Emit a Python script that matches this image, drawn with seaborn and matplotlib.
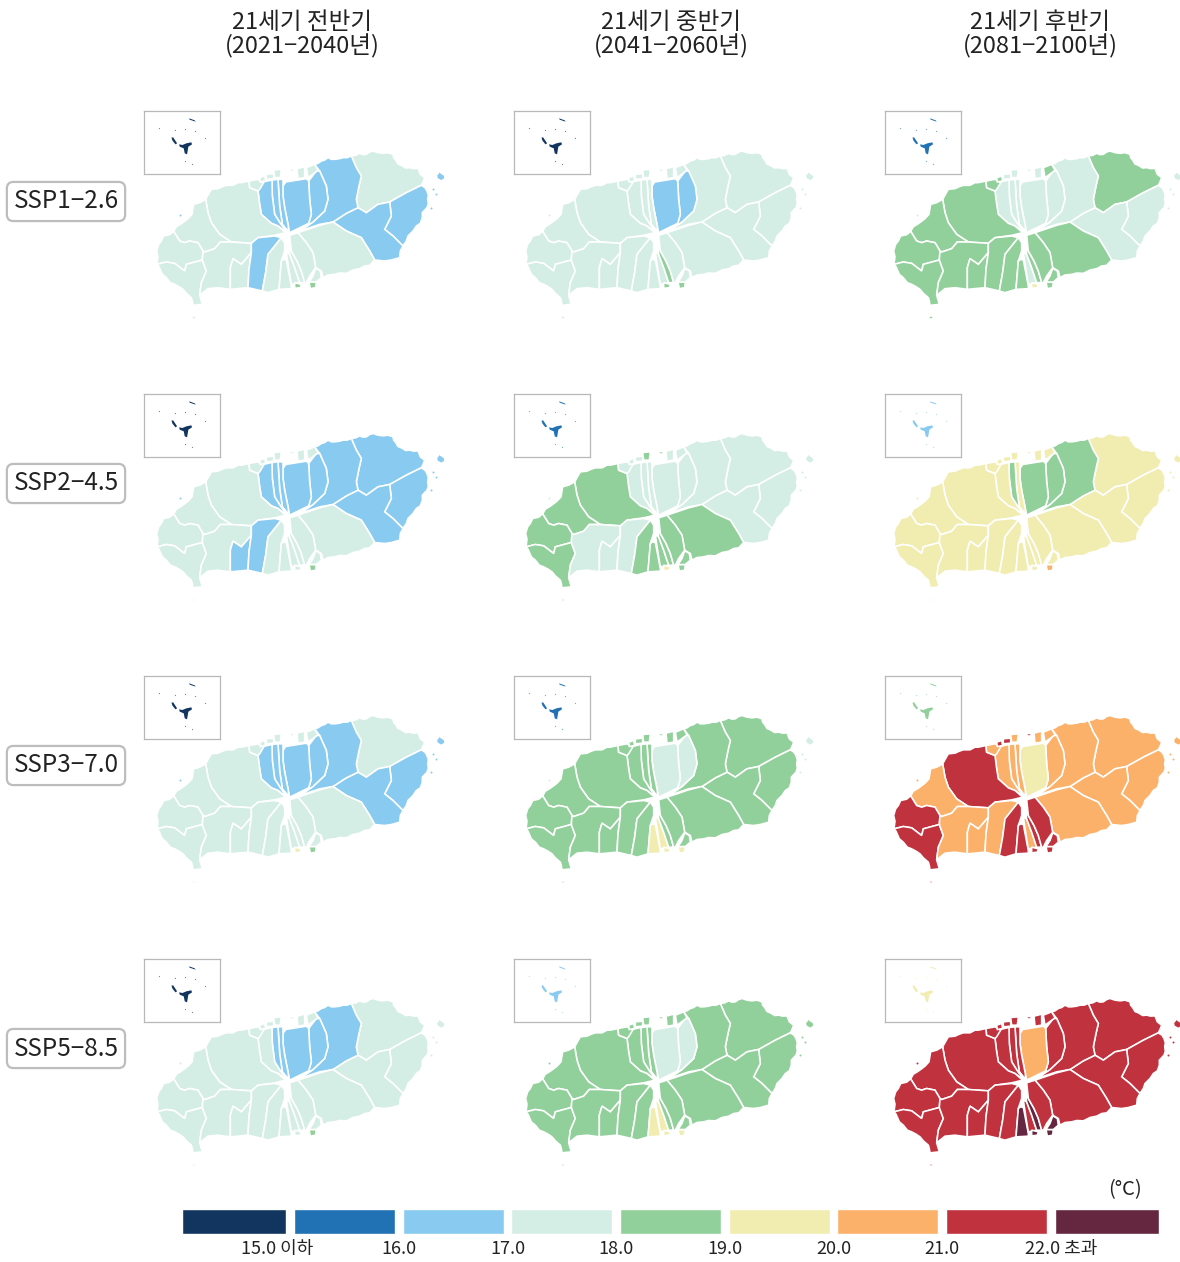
# %%
import matplotlib.pyplot as plt
import pandas as pd
import seaborn as sns

sns.set_theme(style="white")
plt.rcParams["font.family"] = ["Noto Sans CJK KR", "DejaVu Sans"]

# %% labels
col_titles = ["21세기 전반기\n(2021−2040년)", "21세기 중반기\n(2041−2060년)", "21세기 후반기\n(2081−2100년)"]
scenarios = ["SSP1−2.6", "SSP2−4.5", "SSP3−7.0", "SSP5−8.5"]
class_colors = ["#12355f", "#2171b5", "#89cbf0", "#d5eee5", "#92d09b", "#f1edb1", "#fbb16a", "#c1323f", "#65263f"]
tick_labels = ["15.0 이하", "16.0", "17.0", "18.0", "19.0", "20.0", "21.0", "22.0 초과"]
tick_pos = [0.376, 1.5, 2.5, 3.5, 4.5, 5.5, 6.5, 7.597]

# %% district outlines
districts = [
    [(625, 60), (638, 58), (650, 52), (660, 56), (670, 55), (680, 48), (690, 45), (705, 50), (720, 52), (735, 50), (750, 55), (752, 65), (758, 72), (765, 84), (775, 88), (788, 96), (800, 95), (812, 98), (825, 97), (832, 115), (845, 125), (840, 138), (835, 148), (790, 170), (740, 198), (705, 205), (670, 230), (645, 215), (640, 190), (648, 150), (655, 120), (640, 95)],
    [(835, 148), (846, 155), (852, 165), (856, 178), (854, 190), (856, 203), (852, 215), (838, 230), (838, 245), (832, 262), (820, 270), (810, 285), (795, 300), (790, 315), (780, 330), (750, 300), (725, 280), (745, 240), (740, 198), (790, 170)],
    [(570, 258), (610, 232), (645, 215), (670, 230), (705, 205), (740, 198), (745, 240), (725, 280), (750, 300), (780, 330), (772, 345), (770, 365), (745, 372), (725, 375), (695, 372), (680, 345), (655, 305), (610, 285)],
    [(515, 85), (525, 82), (535, 75), (545, 72), (555, 65), (565, 70), (575, 70), (590, 68), (600, 65), (612, 65), (625, 60), (640, 95), (655, 120), (648, 150), (640, 190), (645, 215), (610, 232), (570, 258), (530, 265), (470, 285), (510, 258), (545, 225), (555, 190), (550, 150), (530, 105)],
    [(570, 258), (610, 285), (655, 305), (680, 345), (695, 372), (680, 388), (665, 390), (650, 398), (630, 402), (610, 412), (590, 411), (575, 415), (555, 417), (540, 425), (535, 405), (518, 395), (510, 350), (490, 320), (465, 290), (530, 268)],
    [(497, 135), (520, 105), (530, 105), (550, 150), (555, 190), (545, 225), (510, 258), (470, 285), (497, 262), (505, 235), (500, 190)],
    [(420, 150), (428, 138), (490, 128), (497, 135), (500, 190), (505, 235), (497, 262), (440, 290), (436, 270), (425, 215), (420, 180)],
    [(405, 130), (420, 130), (420, 180), (425, 215), (436, 270), (436, 288), (418, 265), (410, 210)],
    [(387, 132), (405, 130), (410, 210), (418, 265), (436, 288), (412, 262), (395, 235), (388, 180)],
    [(350, 140), (387, 132), (388, 180), (395, 235), (412, 262), (432, 290), (405, 270), (385, 262), (355, 235), (350, 205), (345, 165)],
    [(188, 190), (198, 172), (205, 160), (225, 158), (238, 152), (250, 148), (270, 148), (285, 140), (295, 140), (318, 135), (320, 155), (345, 165), (350, 205), (355, 235), (385, 262), (405, 270), (428, 290), (395, 298), (345, 305), (325, 322), (265, 318), (230, 295), (205, 260), (195, 230)],
    [(92, 286), (100, 272), (112, 265), (122, 258), (135, 248), (147, 235), (152, 205), (170, 200), (188, 190), (195, 230), (205, 260), (230, 295), (265, 318), (232, 318), (215, 338), (185, 348), (180, 345), (165, 320), (140, 315), (125, 320), (110, 315)],
    [(42, 385), (45, 362), (41, 345), (47, 325), (55, 315), (62, 300), (80, 296), (92, 286), (110, 315), (125, 320), (140, 315), (165, 320), (180, 345), (178, 372), (130, 385), (125, 405), (95, 382), (70, 378)],
    [(42, 385), (70, 378), (95, 382), (125, 405), (130, 385), (178, 372), (190, 405), (175, 440), (170, 478), (178, 505), (150, 508), (148, 495), (145, 485), (130, 472), (120, 460), (108, 452), (95, 445), (82, 440), (70, 425), (58, 415), (48, 392)],
    [(180, 345), (185, 348), (215, 338), (232, 318), (265, 318), (325, 322), (325, 350), (295, 385), (270, 368), (262, 395), (262, 460), (225, 455), (195, 458), (170, 478), (175, 440), (190, 405), (178, 372)],
    [(270, 368), (295, 385), (325, 350), (318, 400), (315, 455), (262, 460), (262, 395)],
    [(325, 322), (345, 305), (395, 300), (415, 305), (375, 355), (368, 410), (358, 465), (315, 455), (318, 400), (325, 350)],
    [(415, 305), (425, 320), (425, 345), (415, 375), (408, 460), (375, 470), (358, 465), (368, 410), (375, 355)],
    [(422, 370), (430, 372), (445, 450), (445, 458), (408, 460), (415, 375)],
    [(430, 350), (440, 355), (455, 395), (470, 440), (445, 445), (440, 415)],
    [(437, 325), (445, 345), (462, 375), (475, 405), (485, 440), (470, 440), (455, 395), (440, 355)],
    [(440, 298), (465, 290), (490, 320), (510, 350), (518, 395), (500, 420), (490, 440), (485, 440), (475, 405), (462, 375), (445, 345)],
    [(498, 438), (520, 438), (518, 455), (502, 458)],
    [(455, 440), (475, 445), (472, 455), (455, 457)],
    [(890, 97), (893, 110), (905, 118), (906, 128), (895, 135), (882, 128), (880, 118), (887, 110)],
    [(148, 541), (158, 541), (158, 548), (148, 548)],
    [(318, 135), (345, 130), (362, 140), (350, 160), (345, 165), (320, 155)],
    [(350, 125), (365, 120), (368, 135), (352, 138)],
    [(370, 115), (392, 113), (392, 128), (370, 130)],
    [(392, 102), (415, 100), (412, 125), (395, 125)],
    [(462, 98), (485, 92), (485, 125), (465, 128)],
    [(490, 95), (515, 85), (525, 103), (495, 125)],
    [(440, 98), (455, 100), (452, 107), (442, 106)],
    [(518, 397), (532, 405), (535, 425), (520, 438), (498, 438), (510, 420)],
]
east_dot_x = [870, 878, 865, 110]
east_dot_y = [160, 175, 215, 238]

# %% temperature class of each district, one list per panel
ssp126_early = [3, 2, 2, 2, 3, 2, 2, 2, 2, 2, 3, 3, 3, 3, 3, 3, 2, 3, 3, 3, 3, 3, 4, 4, 2, 3, 3, 3, 3, 3, 3, 3, 3, 3]
ssp126_mid = [3, 3, 3, 3, 3, 2, 2, 3, 3, 3, 3, 3, 3, 3, 3, 3, 3, 3, 3, 3, 4, 3, 4, 4, 3, 3, 3, 3, 3, 3, 3, 3, 3, 3]
ssp126_late = [4, 3, 3, 3, 4, 3, 3, 3, 3, 3, 4, 4, 4, 4, 4, 4, 4, 4, 4, 3, 4, 4, 4, 5, 3, 4, 4, 4, 3, 3, 3, 4, 3, 4]
ssp245_early = [2, 2, 2, 2, 3, 2, 2, 2, 2, 2, 3, 3, 3, 3, 3, 2, 2, 3, 3, 3, 3, 3, 4, 3, 2, 3, 3, 3, 3, 3, 3, 3, 3, 3]
ssp245_mid = [3, 3, 3, 3, 4, 3, 3, 3, 3, 3, 4, 4, 4, 4, 3, 3, 3, 4, 4, 4, 4, 4, 4, 5, 3, 4, 3, 3, 3, 4, 3, 3, 4, 4]
ssp245_late = [5, 5, 5, 4, 5, 4, 4, 5, 4, 5, 5, 5, 5, 5, 5, 5, 5, 5, 5, 5, 5, 5, 6, 5, 5, 5, 5, 5, 5, 5, 5, 5, 5, 5]
ssp370_early = [3, 2, 2, 2, 3, 2, 2, 2, 2, 2, 3, 3, 3, 3, 3, 3, 3, 3, 3, 3, 3, 3, 4, 5, 2, 3, 3, 3, 3, 3, 3, 3, 3, 3]
ssp370_mid = [4, 4, 4, 4, 4, 3, 3, 4, 4, 4, 4, 4, 4, 4, 4, 4, 4, 4, 5, 5, 4, 4, 5, 5, 3, 4, 4, 4, 4, 4, 4, 4, 4, 4]
ssp370_late = [6, 6, 6, 6, 6, 6, 5, 6, 6, 6, 7, 6, 7, 7, 6, 6, 6, 7, 7, 6, 7, 7, 7, 7, 6, 7, 6, 7, 7, 6, 6, 6, 7, 7]
ssp585_early = [3, 3, 3, 2, 3, 2, 2, 2, 2, 3, 3, 3, 3, 3, 3, 3, 3, 3, 3, 3, 3, 3, 4, 3, 3, 3, 3, 3, 3, 3, 3, 3, 3, 3]
ssp585_mid = [4, 4, 4, 4, 4, 3, 3, 4, 4, 4, 4, 4, 4, 4, 4, 4, 4, 4, 5, 5, 4, 4, 5, 5, 4, 4, 4, 4, 4, 4, 4, 4, 4, 4]
ssp585_late = [7, 7, 7, 7, 7, 7, 6, 7, 7, 7, 7, 7, 7, 7, 7, 7, 7, 7, 8, 7, 8, 7, 8, 8, 7, 7, 7, 7, 7, 7, 7, 7, 7, 8]
panels = [
    [ssp126_early, ssp126_mid, ssp126_late],
    [ssp245_early, ssp245_mid, ssp245_late],
    [ssp370_early, ssp370_mid, ssp370_late],
    [ssp585_early, ssp585_mid, ssp585_late],
]

# %% inset: outlying islands and the mountain district
inset_classes = [[0, 0, 1], [0, 1, 2], [0, 1, 4], [0, 2, 5]]
inset_shapes = [
    [(118, 118), (128, 120), (140, 115), (155, 112), (157, 118), (146, 125), (142, 148), (135, 145), (132, 130), (120, 125)],
    [(95, 98), (100, 97), (112, 115), (107, 118), (98, 107)],
    [(148, 40), (165, 46), (168, 50), (150, 44)],
]
inset_dot_x = [57, 135, 105, 165, 137, 158, 197]
inset_dot_y = [70, 72, 75, 78, 168, 178, 98]

# %%
W, H = 1180, 1262
fig = plt.figure(figsize=(W / 100, H / 100), dpi=100)


def px_axes(left, top, width, height):
    return fig.add_axes([left / W, 1 - (top + height) / H, width / W, height / H])


col_left = [143, 512, 880]
row_top = [136, 418.5, 700.5, 983.5]
inset_left = [144, 514, 885]
inset_top = [111, 394, 676, 959]
title_x = [302, 671, 1040]
label_y = [201.5, 483.5, 765.5, 1048.5]

for row, row_panels in enumerate(panels):
    for col, classes in enumerate(row_panels):
        ax = px_axes(col_left[col], row_top[row], 320, 200)
        for shape, cls in zip(districts, classes, strict=True):
            xs, ys = zip(*shape)
            ax.fill(xs, ys, facecolor=class_colors[cls], edgecolor="white", linewidth=1.15)
        sns.scatterplot(x=east_dot_x, y=east_dot_y, color=class_colors[classes[24]], s=2, linewidth=0, ax=ax)
        ax.set(xlim=(0, 960), ylim=(600, 0))
        ax.axis("off")

        inset = px_axes(inset_left[col], inset_top[row], 75.5, 63)
        color = class_colors[inset_classes[row][col]]
        for shape in inset_shapes:
            xs, ys = zip(*shape)
            inset.fill(xs, ys, color=color, linewidth=0)
        sns.scatterplot(x=inset_dot_x, y=inset_dot_y, color=color, s=0.8, alpha=0.6, linewidth=0, ax=inset)
        inset.set(xlim=(12, 240), ylim=(207, 18), xticks=[], yticks=[])
        for spine in inset.spines.values():
            spine.set_color("#b8b8b8")
            spine.set_linewidth(0.9)

for x, title in zip(title_x, col_titles, strict=True):
    fig.text(x / W, 1 - 35 / H, title, ha="center", va="center", fontsize=17, color="#222222", linespacing=1.02)

for y, name in zip(label_y, scenarios, strict=True):
    fig.text(
        66 / W, 1 - y / H, name, ha="center", va="center", fontsize=17.5, color="#222222",
        bbox=dict(boxstyle="round,pad=0.27", facecolor="white", edgecolor="#bdbdbd", linewidth=1.6),
    )

# %% colour key
df_key = pd.DataFrame({"cls": [str(i) for i in range(9)], "height": [1] * 9})
key = px_axes(181.5, 1209, 978, 25)
sns.barplot(
    df_key, x="cls", y="height", hue="cls", palette=class_colors, width=0.93,
    saturation=1, legend=False, ax=key,
)
key.patches[0].set_x(-0.5)
key.patches[0].set_width(0.965)
key.patches[8].set_width(0.965)
key.set(xlim=(-0.5, 8.5), ylim=(0, 1), xlabel="", ylabel="", yticks=[])
key.set_xticks(tick_pos, tick_labels)
key.tick_params(axis="x", length=0, labelsize=13, pad=4, labelcolor="#222222")
sns.despine(ax=key, left=True, bottom=True)
fig.text(1142 / W, 1 - 1190 / H, "(°C)", ha="right", va="center", fontsize=14.5, color="#222222")

plt.savefig("out.png", dpi=100)
